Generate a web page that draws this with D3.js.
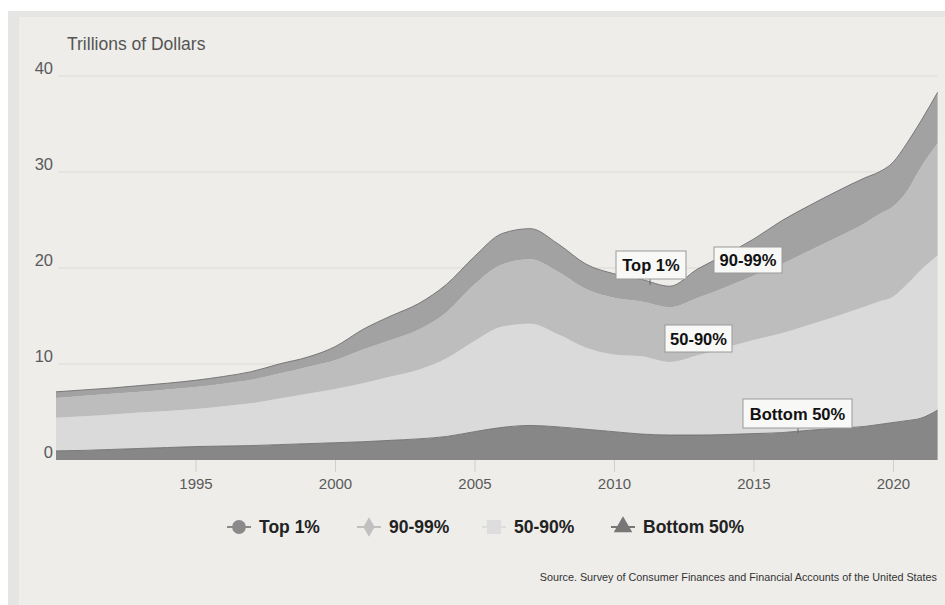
<!DOCTYPE html>
<html lang="en">
<head>
<meta charset="UTF-8">
<title>Wealth by percentile group</title>
<script src="https://d3js.org/d3.v7.min.js"></script>
<style>
    body { margin: 0; background: #fff; }
    svg { display: block; font-family: "Liberation Sans", Arial, sans-serif; }
    .tick-label { fill: #5a5a5a; }
    .note { font-size: 16.5px; font-weight: bold; fill: #111; }
    .legend-label { font-size: 17.5px; font-weight: bold; fill: #222; }
</style>
</head>
<body>
<svg width="945" height="605"></svg>
<script>
    // trillions of dollars
    const years    = [1990, 1991, 1992, 1993, 1994, 1995, 1996, 1997, 1998, 1999,
                      2000, 2001, 2002, 2003, 2004, 2005, 2006, 2007, 2008, 2009,
                      2010, 2011, 2012, 2013, 2014, 2015, 2016, 2017, 2018, 2019,
                      2019.5, 2020, 2020.5, 2021, 2021.6];
    const bottom50 = [0.95, 1.0, 1.1, 1.2, 1.3, 1.4, 1.45, 1.5, 1.6, 1.7,
                      1.8, 1.9, 2.05, 2.2, 2.45, 2.95, 3.4, 3.6, 3.45, 3.2,
                      2.95, 2.7, 2.6, 2.6, 2.65, 2.75, 2.85, 3.1, 3.3, 3.5,
                      3.7, 3.9, 4.1, 4.35, 5.2];
    const p50_90   = [3.45, 3.55, 3.65, 3.75, 3.8, 3.9, 4.15, 4.4, 4.8, 5.2,
                      5.6, 6.1, 6.65, 7.2, 8.15, 9.45, 10.5, 10.6, 9.65, 8.5,
                      8.05, 8.1, 7.6, 8.3, 9.05, 9.75, 10.35, 11.0, 11.7, 12.5,
                      12.8, 13.1, 14.2, 15.45, 16.1];
    const p90_99   = [2.05, 2.15, 2.15, 2.15, 2.25, 2.3, 2.35, 2.45, 2.6, 2.8,
                      3.0, 3.5, 3.8, 4.2, 4.8, 5.9, 6.5, 6.7, 6.5, 6.1,
                      5.9, 5.7, 5.7, 6.0, 6.3, 6.7, 7.2, 7.7, 8.2, 8.7,
                      9.1, 9.4, 9.7, 10.7, 11.7];
    const top1     = [0.65, 0.6, 0.6, 0.65, 0.65, 0.7, 0.75, 0.85, 1.0, 1.0,
                      1.4, 2.1, 2.5, 2.7, 2.9, 2.9, 3.2, 3.2, 2.9, 2.6,
                      2.5, 2.3, 2.2, 3.0, 3.4, 3.8, 4.5, 4.7, 4.8, 4.7,
                      4.4, 4.6, 5.0, 4.8, 5.3];

    const yTicks = [0, 10, 20, 30, 40];
    const xTicks = [1995, 2000, 2005, 2010, 2015, 2020];

    const groups = [
        { key: 'bottom50', label: 'Bottom 50%', fill: '#878787', marker: '#777777', symbol: d3.symbolTriangle, size: 150 },
        { key: 'p50_90',   label: '50-90%',     fill: '#dadada', marker: '#dddddd', symbol: d3.symbolSquare,   size: 200 },
        { key: 'p90_99',   label: '90-99%',     fill: '#bdbdbd', marker: '#c0c0c0', symbol: d3.symbolDiamond,  size: 110 },
        { key: 'top1',     label: 'Top 1%',     fill: '#a2a2a2', marker: '#8a8a8a', symbol: d3.symbolCircle,   size: 150 }
    ];

    const table = years.map((yr, i) => ({
        year: yr, bottom50: bottom50[i], p50_90: p50_90[i], p90_99: p90_99[i], top1: top1[i]
    }));

    const svg = d3.select('svg');

    // background panel
    svg.append('rect').attr('x', 8).attr('y', 11).attr('width', 937).attr('height', 594).attr('fill', '#e5e5e4');
    svg.append('rect').attr('x', 19).attr('y', 17).attr('width', 926).attr('height', 588).attr('fill', '#eeedea');

    const x = d3.scaleLinear().domain([1990, 2021.6]).range([56, 937.6]);
    const y = d3.scaleLinear().domain([0, 40]).range([460, 76]);

    // grid lines
    svg.append('g').selectAll('line')
        .data(yTicks.filter(d => d > 0))
        .join('line')
        .attr('x1', 58).attr('x2', 937)
        .attr('y1', d => y(d)).attr('y2', d => y(d))
        .attr('stroke', '#dcdbd8').attr('stroke-width', 1);

    const stack = d3.stack().keys(groups.map(g => g.key));
    const series = stack(table);

    const area = d3.area()
        .x(d => x(d.data.year))
        .y0(d => y(d[0]))
        .y1(d => y(d[1]))
        .curve(d3.curveMonotoneX);

    svg.append('g').selectAll('path')
        .data(series)
        .join('path')
        .attr('d', area)
        .attr('fill', (d, i) => groups[i].fill);

    // thin darker edges on top of the total and of the bottom 50%
    const edge = d3.line()
        .x(d => x(d.data.year))
        .y(d => y(d[1]))
        .curve(d3.curveMonotoneX);
    [series[0], series[3]].forEach(s => {
        svg.append('path').attr('d', edge(s))
            .attr('fill', 'none').attr('stroke', '#6e6e6e').attr('stroke-width', 0.9);
    });

    // bottom axis
    const xAxis = svg.append('g')
        .attr('transform', `translate(0,${y(0)})`)
        .call(d3.axisBottom(x).tickValues(xTicks).tickFormat(d3.format('d')).tickSize(12).tickPadding(6));
    xAxis.select('.domain').remove();
    xAxis.selectAll('line').attr('stroke', '#cfcfcf');
    xAxis.selectAll('text').attr('class', 'tick-label')
        .attr('font-size', 15).attr('font-family', null);

    // y tick labels
    svg.append('g').selectAll('text')
        .data(yTicks)
        .join('text')
        .attr('class', 'tick-label')
        .attr('font-size', 16.5)
        .attr('x', 53)
        .attr('y', d => y(d) - 2)
        .attr('text-anchor', 'end')
        .text(d => d);

    svg.append('text')
        .attr('x', 67).attr('y', 50)
        .attr('fill', '#555').attr('font-size', 17.5)
        .text('Trillions of Dollars');

    // annotation boxes
    const notes = [
        { text: 'Top 1%',     x: 616, y: 251, w: 70,  h: 28, px: 650, py: 285 },
        { text: '90-99%',     x: 714, y: 247, w: 68,  h: 26 },
        { text: '50-90%',     x: 665, y: 325, w: 67,  h: 27 },
        { text: 'Bottom 50%', x: 743, y: 399, w: 109, h: 29, px: 798, py: 433 }
    ];
    const noteG = svg.append('g').selectAll('g').data(notes).join('g');
    noteG.filter(d => d.px)
        .append('line')
        .attr('x1', d => d.px).attr('x2', d => d.px)
        .attr('y1', d => d.y + d.h).attr('y2', d => d.py)
        .attr('stroke', '#666');
    noteG.append('rect')
        .attr('x', d => d.x).attr('y', d => d.y)
        .attr('width', d => d.w).attr('height', d => d.h)
        .attr('fill', '#f8f8f7').attr('stroke', '#9a9a9a');
    noteG.append('text')
        .attr('class', 'note')
        .attr('x', d => d.x + d.w / 2).attr('y', d => d.y + d.h / 2 + 6)
        .attr('text-anchor', 'middle')
        .text(d => d.text);

    // legend
    const legendItems = [
        { g: groups[3], x: 239 },
        { g: groups[2], x: 369 },
        { g: groups[1], x: 494 },
        { g: groups[0], x: 623 }
    ];
    const leg = svg.append('g').attr('transform', 'translate(0,527)')
        .selectAll('g').data(legendItems).join('g')
        .attr('transform', d => `translate(${d.x},0)`);
    leg.append('line')
        .attr('x1', -12).attr('x2', 12)
        .attr('stroke', d => d.g.marker).attr('stroke-width', 2);
    leg.append('path')
        .attr('d', d => d3.symbol().type(d.g.symbol).size(d.g.size)())
        .attr('fill', d => d.g.marker);
    leg.append('text')
        .attr('class', 'legend-label')
        .attr('x', 20).attr('y', 6)
        .text(d => d.g.label);

    svg.append('text')
        .attr('x', 937).attr('y', 581)
        .attr('text-anchor', 'end')
        .attr('fill', '#333').attr('font-size', 10.8)
        .text('Source. Survey of Consumer Finances and Financial Accounts of the United States');
</script>
</body>
</html>
